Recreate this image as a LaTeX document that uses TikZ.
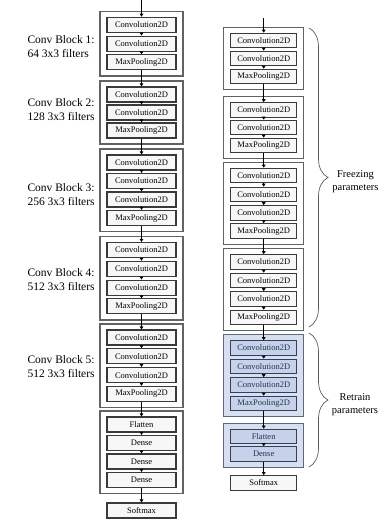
\documentclass[tikz,border=0pt]{standalone}
\usepackage{fontspec}
\setmainfont{Liberation Serif}
\usetikzlibrary{arrows.meta,decorations.pathreplacing,fit,backgrounds}
\definecolor{ink}{HTML}{3A3A3A}
\definecolor{boxfill}{HTML}{F7F7F7}
\definecolor{outerc}{HTML}{626262}
\definecolor{blueink}{HTML}{33405A}
\definecolor{bluein}{HTML}{C6D2E9}
\definecolor{bluetext}{HTML}{26324D}
\definecolor{blueouter}{HTML}{5E6880}
\definecolor{blueblock}{HTML}{D8E0EF}
\definecolor{bracec}{HTML}{5A5A5A}
\begin{document}
\begin{tikzpicture}[x=1pt,y=-1pt,
 ibox/.style={draw=ink, fill=boxfill, line width=1.1pt, minimum width=69pt, minimum height=15pt, inner sep=0pt, font=\fontsize{8.5}{10}\selectfont},
 rbox/.style={ibox, minimum width=66pt, minimum height=14.5pt},
 bbox/.style={rbox, draw=blueink, fill=bluein, text=bluetext},
 oblock/.style={draw=outerc, line width=1.3pt, fill=white, inner xsep=6.5pt, inner ysep=5.5pt},
 bblock/.style={oblock, draw=blueouter, fill=blueblock},
 arr/.style={-{Triangle[length=3pt,width=3.6pt]}, line width=0.9pt, black},
 lab/.style={anchor=west, align=left, font=\fontsize{11.5}{14}\selectfont},
 brc/.style={decorate, decoration={brace, amplitude=19pt}, draw=bracec, line width=0.7pt},
 note/.style={align=center, font=\fontsize{10.5}{13.5}\selectfont}
]
\useasboundingbox (0,0) rectangle (379,519);
\clip (0,0) rectangle (379,519);

% ---------- left column ----------
\node[ibox] (L1a) at (141.5,24.8) {Convolution2D};
\node[ibox] (L1b) at (141.5,43.6) {Convolution2D};
\node[ibox] (L1c) at (141.5,62.4) {MaxPooling2D};
\node[ibox] (L2a) at (141.5,94.5) {Convolution2D};
\node[ibox] (L2b) at (141.5,112.5) {Convolution2D};
\node[ibox] (L2c) at (141.5,130.5) {MaxPooling2D};
\node[ibox] (L3a) at (141.5,162.5) {Convolution2D};
\node[ibox] (L3b) at (141.5,181) {Convolution2D};
\node[ibox] (L3c) at (141.5,199.5) {Convolution2D};
\node[ibox] (L3d) at (141.5,218) {MaxPooling2D};
\node[ibox] (L4a) at (141.5,250) {Convolution2D};
\node[ibox] (L4b) at (141.5,268.8) {Convolution2D};
\node[ibox] (L4c) at (141.5,287.6) {Convolution2D};
\node[ibox] (L4d) at (141.5,306.4) {MaxPooling2D};
\node[ibox] (L5a) at (141.5,337.5) {Convolution2D};
\node[ibox] (L5b) at (141.5,356.3) {Convolution2D};
\node[ibox] (L5c) at (141.5,375.1) {Convolution2D};
\node[ibox] (L5d) at (141.5,393.9) {MaxPooling2D};
\node[ibox] (L6a) at (141.5,424.5) {Flatten};
\node[ibox] (L6b) at (141.5,443) {Dense};
\node[ibox] (L6c) at (141.5,461.5) {Dense};
\node[ibox] (L6d) at (141.5,480) {Dense};
\node[ibox] (Lsm) at (141.5,510.5) {Softmax};

\begin{scope}[on background layer]
\node[oblock, fit=(L1a)(L1c)] (LB1) {};
\node[oblock, fit=(L2a)(L2c)] (LB2) {};
\node[oblock, fit=(L3a)(L3d)] (LB3) {};
\node[oblock, fit=(L4a)(L4d)] (LB4) {};
\node[oblock, fit=(L5a)(L5d)] (LB5) {};
\node[oblock, fit=(L6a)(L6d)] (LB6) {};
\end{scope}

\coordinate (Ltop) at (141.5,0);
\draw[arr] (Ltop) -- (L1a);
\foreach \a/\b in {L1a/L1b,L1b/L1c,L1c/L2a,L2a/L2b,L2b/L2c,L2c/L3a,L3a/L3b,L3b/L3c,L3c/L3d,L3d/L4a,L4a/L4b,L4b/L4c,L4c/L4d,L4d/L5a,L5a/L5b,L5b/L5c,L5c/L5d,L5d/L6a,L6a/L6b,L6b/L6c,L6c/L6d,L6d/Lsm}
  \draw[arr] (\a) -- (\b);

\node[lab] (T1) at (24,46.5) {Conv Block 1:\\64 3x3 filters};
\node[lab] (T2) at (24,110) {Conv Block 2:\\128 3x3 filters};
\node[lab] (T3) at (24,194.5) {Conv Block 3:\\256 3x3 filters};
\node[lab] (T4) at (24,279.5) {Conv Block 4:\\512 3x3 filters};
\node[lab] (T5) at (24,366.5) {Conv Block 5:\\512 3x3 filters};

% ---------- right column ----------
\node[rbox] (R1a) at (263.7,40.5) {Convolution2D};
\node[rbox] (R1b) at (263.7,58.5) {Convolution2D};
\node[rbox] (R1c) at (263.7,76.5) {MaxPooling2D};
\node[rbox] (R2a) at (263.7,110) {Convolution2D};
\node[rbox] (R2b) at (263.7,127.5) {Convolution2D};
\node[rbox] (R2c) at (263.7,145.5) {MaxPooling2D};
\node[rbox] (R3a) at (263.7,175.5) {Convolution2D};
\node[rbox] (R3b) at (263.7,194.5) {Convolution2D};
\node[rbox] (R3c) at (263.7,213) {Convolution2D};
\node[rbox] (R3d) at (263.7,231) {MaxPooling2D};
\node[rbox] (R4a) at (263.7,262) {Convolution2D};
\node[rbox] (R4b) at (263.7,280.5) {Convolution2D};
\node[rbox] (R4c) at (263.7,299) {Convolution2D};
\node[rbox] (R4d) at (263.7,317.5) {MaxPooling2D};
\node[bbox] (R5a) at (263.7,348) {Convolution2D};
\node[bbox] (R5b) at (263.7,366.5) {Convolution2D};
\node[bbox] (R5c) at (263.7,385) {Convolution2D};
\node[bbox] (R5d) at (263.7,403.5) {MaxPooling2D};
\node[bbox] (R6a) at (263.7,436.5) {Flatten};
\node[bbox] (R6b) at (263.7,454) {Dense};
\node[rbox] (Rsm) at (263.7,483) {Softmax};

\begin{scope}[on background layer]
\node[oblock, fit=(R1a)(R1c)] (RB1) {};
\node[oblock, fit=(R2a)(R2c)] (RB2) {};
\node[oblock, fit=(R3a)(R3d)] (RB3) {};
\node[oblock, fit=(R4a)(R4d)] (RB4) {};
\node[bblock, fit=(R5a)(R5d)] (RB5) {};
\node[bblock, fit=(R6a)(R6b)] (RB6) {};
\end{scope}

\coordinate (Rtop) at (263.7,18);
\draw[arr] (Rtop) -- (R1a);
\foreach \a/\b in {R1a/R1b,R1b/R1c,R1c/R2a,R2a/R2b,R2b/R2c,R2c/R3a,R3a/R3b,R3b/R3c,R3c/R3d,R3d/R4a,R4a/R4b,R4b/R4c,R4c/R4d,R4d/R5a,R5a/R5b,R5b/R5c,R5c/R5d,R5d/R6a,R6a/R6b,R6b/Rsm}
  \draw[arr] (\a) -- (\b);

% ---------- braces ----------
\coordinate (F1) at (309,28);
\coordinate (F2) at (309,327);
\coordinate (G1) at (309,333);
\coordinate (G2) at (309,467);
\draw[brc] (F1) -- (F2);
\draw[brc] (G1) -- (G2);
\node[note] (FT) at (355.5,181.5) {Freezing\\parameters};
\node[note] (GT) at (355,404.5) {Retrain\\parameters};
\end{tikzpicture}
\end{document}
